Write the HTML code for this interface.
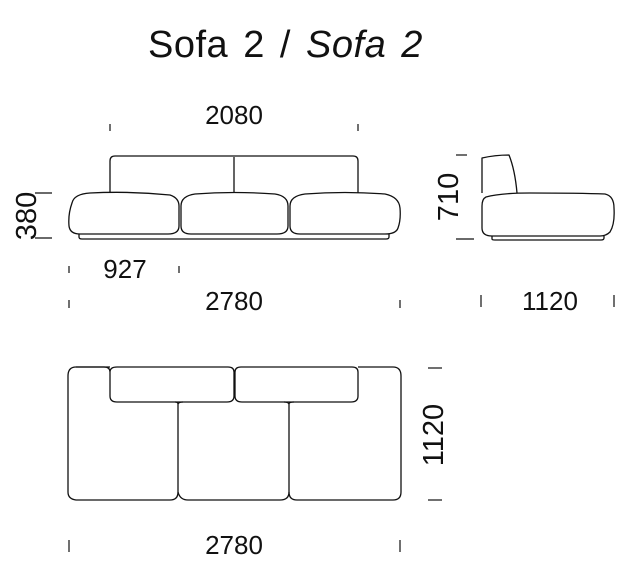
<!DOCTYPE html>
<html><head><meta charset="utf-8"><style>
html,body{margin:0;padding:0;background:#fff;}
svg{display:block;}
text{font-family:"Liberation Sans",sans-serif;fill:#111;}
</style></head><body>
<svg width="638" height="578" viewBox="0 0 638 578" xmlns="http://www.w3.org/2000/svg">
<g fill="none" stroke="#111" stroke-width="1.3" stroke-linejoin="round">
<path d="M110 193 V161 Q110 156 115 156 H353 Q358 156 358 161 V193"/>
<line x1="234" y1="157" x2="234" y2="193"/>
<path d="M72 203 Q74 194 90 193 Q130 191 170 195 Q179 198 179 206 V226 Q179 234 168 234 H80 Q70 234 69 226 Q68 214 72 203 Z" fill="#fff"/>
<path d="M181 206 Q181 196 195 194 Q234 191 275 194 Q288 196 288 206 V226 Q288 234 277 234 H191 Q181 234 181 226 Z" fill="#fff"/>
<path d="M290 206 Q290 196 305 194 Q345 191 385 194 Q399 197 400 208 Q401 220 398 228 Q396 234 385 234 H300 Q290 234 290 226 Z" fill="#fff"/>
<path d="M79 234 V237 Q79 239 82 239 H386 Q389 239 389 237 V234"/>
<path d="M482 193 V158 Q495 155 509 155 Q515 170 517 193"/>
<path d="M486 197 Q500 193 530 193 Q580 193 605 194 Q614 196 614 208 Q615 224 610 232 Q606 236 600 236 H492 Q482 236 482 228 V206 Q482 199 486 197 Z" fill="#fff"/>
<path d="M492 236 V239 Q492 240 495 240 H601 Q604 240 604 238 V236"/>
<path d="M76 367 H104 Q110 367 110 372 V396 Q110 402 117 402 H227 Q234 402 234 396 V372 Q234 367 228 367 H117 Q110 367 110 372"/>
<path d="M235 372 Q235 367 241 367 H352 Q358 367 358 372 V396 Q358 402 351 402 H242 Q235 402 235 396 Z"/>
<path d="M110 367 H76 Q68 367 68 376 V492 Q68 499 76 500 L170 500 Q178 500 178 492"/>
<path d="M358 367 H393 Q401 367 401 376 V492 Q401 500 393 500 H297 Q289 500 289 492"/>
<path d="M178 404 V492 Q180 500 188 500 H280 Q289 500 289 492 V404"/>
<path d="M289 404 Q289 402 294 402 M178 404 Q178 402 175 402 M289 404 Q288 402 284 402 M178 404 Q179 402 183 402"/>
</g>
<g stroke="#111" stroke-width="1.2">
<line x1="110" y1="124" x2="110" y2="131"/><line x1="358" y1="124" x2="358" y2="131"/>
<line x1="35" y1="193" x2="52" y2="193"/><line x1="35" y1="238" x2="52" y2="238"/>
<line x1="69" y1="266" x2="69" y2="273"/><line x1="179" y1="266" x2="179" y2="273"/>
<line x1="69" y1="300" x2="69" y2="308"/><line x1="400" y1="300" x2="400" y2="308"/>
<line x1="456" y1="155" x2="467" y2="155"/><line x1="456" y1="239" x2="474" y2="239"/>
<line x1="481" y1="295" x2="481" y2="307"/><line x1="614" y1="295" x2="614" y2="307"/>
<line x1="428" y1="368" x2="442" y2="368"/><line x1="428" y1="500" x2="442" y2="500"/>
<line x1="69" y1="540" x2="69" y2="552"/><line x1="400" y1="540" x2="400" y2="552"/>
</g>
<text x="148" y="57" font-size="38" letter-spacing="0.5" word-spacing="4">Sofa 2 / <tspan font-style="italic">Sofa 2</tspan></text>
<g font-size="26" text-anchor="middle">
<text x="234" y="124">2080</text>
<text x="125" y="278">927</text>
<text x="234" y="310">2780</text>
<text x="550" y="310">1120</text>
<text x="234" y="554">2780</text>
</g>
<g font-size="29" text-anchor="middle">
<text transform="translate(36,216) rotate(-90)">380</text>
<text transform="translate(458,197) rotate(-90)">710</text>
<text transform="translate(443,435) rotate(-90)">1120</text>
</g>
</svg>
</body></html>
